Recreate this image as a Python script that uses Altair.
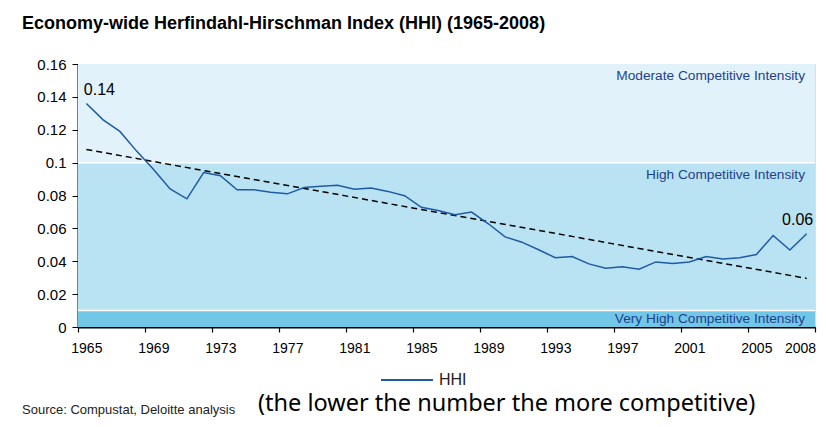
import altair as alt
import pandas as pd

years = list(range(1965, 2009))
hhi = [0.136, 0.126, 0.119, 0.107, 0.096, 0.084, 0.078, 0.094, 0.092, 0.0835,
       0.0835, 0.082, 0.081, 0.0848, 0.0856, 0.0862, 0.0838, 0.0846, 0.0825, 0.0799,
       0.0728, 0.0709, 0.0683, 0.0699, 0.0628, 0.0548, 0.0516, 0.047, 0.0421, 0.0429,
       0.0384, 0.0358, 0.0367, 0.0351, 0.0396, 0.0386, 0.0396, 0.0429, 0.0413, 0.0421,
       0.0441, 0.0557, 0.0468, 0.0567]

band_labels = ["Moderate Competitive Intensity", "High Competitive Intensity",
               "Very High Competitive Intensity"]
band_lo = [0.10, 0.01, 0.0]
band_hi = [0.16, 0.10, 0.01]
band_colors = ["#E2F2FA", "#B9E3F2", "#72C7E7"]

x_label_values = [1965, 1969, 1973, 1977, 1981, 1985, 1989, 1993, 1997, 2001, 2005, 2008]
x_tick_values = [1964.5 + 4 * i for i in range(12)]
y_tick_values = [0, 0.02, 0.04, 0.06, 0.08, 0.10, 0.12, 0.14, 0.16]

FONT = "Liberation Sans"

df = pd.DataFrame({"year": years, "hhi": hhi, "series": ["HHI"] * len(years)})
bands = pd.DataFrame({"label": band_labels, "lo": band_lo, "hi": band_hi,
                      "color": band_colors, "xr": [2008.5] * 3})

xscale = alt.Scale(domain=[1964.5, 2008.5], nice=False, zero=False)
yscale = alt.Scale(domain=[0, 0.16], nice=False, zero=True)
yaxis = alt.Axis(values=y_tick_values, format="~g", title=None, grid=False,
                 tickSize=6, tickColor="black", domainColor="black", domainWidth=2,
                 labelFontSize=15, labelPadding=6, labelColor="black", labelFont=FONT)

band_rect = alt.Chart(bands).mark_rect().encode(
    y=alt.Y("lo:Q", scale=yscale, axis=yaxis),
    y2="hi:Q",
    fill=alt.Fill("color:N", scale=None, legend=None),
)

band_sep = alt.Chart(bands).transform_filter("datum.lo > 0").mark_rule(
    color="white", strokeWidth=1.5
).encode(y=alt.Y("lo:Q", scale=yscale, axis=yaxis))

band_text_top = alt.Chart(bands).transform_filter("datum.lo > 0").mark_text(
    align="right", baseline="top", dx=-10, dy=5, fontSize=13.7, font=FONT, color="#1F3F8F"
).encode(
    x=alt.X("xr:Q", scale=xscale, axis=None),
    y=alt.Y("hi:Q", scale=yscale, axis=yaxis),
    text="label:N",
)

band_text_bottom = alt.Chart(bands).transform_filter("datum.lo == 0").transform_calculate(
    mid="(datum.lo + datum.hi) / 2"
).mark_text(
    align="right", baseline="middle", dx=-10, dy=0, fontSize=13.7, font=FONT, color="#1F3F8F"
).encode(
    x=alt.X("xr:Q", scale=xscale, axis=None),
    y=alt.Y("mid:Q", scale=yscale, axis=yaxis),
    text="label:N",
)

trend = alt.Chart(df).transform_regression("year", "hhi").mark_line(
    color="black", strokeDash=[6, 4], strokeWidth=1.5
).encode(
    x=alt.X("year:Q", scale=xscale,
            axis=alt.Axis(values=x_tick_values, labels=False, ticks=True, tickSize=5,
                          tickColor="black", tickWidth=1.2, domain=False, grid=False,
                          title=None, orient="bottom")),
    y=alt.Y("hhi:Q", scale=yscale, axis=yaxis),
)

line = alt.Chart(df).mark_line(strokeWidth=1.5).encode(
    x=alt.X("year:Q", scale=xscale,
            axis=alt.Axis(values=x_label_values, format="d", ticks=False, grid=False,
                          domainColor="black", domainWidth=2, labelFontSize=14,
                          labelFont=FONT, labelColor="black", labelPadding=14,
                          title=None, orient="bottom", labelFlush=False,
                          labelAlign={"condition": {"test": "datum.value == 2008", "value": "right"},
                                      "value": "center"},
                          labelOffset={"condition": {"test": "datum.value == 2008", "value": 9},
                                       "value": 0})),
    y=alt.Y("hhi:Q", scale=yscale, axis=yaxis),
    color=alt.Color("series:N", scale=alt.Scale(domain=["HHI"], range=["#1F5AA6"]),
                    legend=alt.Legend(orient="none", legendX=302, legendY=289, title=None,
                                      symbolType="stroke", symbolSize=2700,
                                      symbolStrokeWidth=2, labelFontSize=16,
                                      labelFont=FONT, labelColor="#222222",
                                      labelOffset=5, padding=0)),
)

first_label = alt.Chart(df).transform_filter("datum.year == 1965").transform_calculate(
    lbl="format(datum.hhi, '.2f')"
).mark_text(align="center", baseline="alphabetic", dx=13, dy=-8, fontSize=16,
            font=FONT, color="black").encode(
    x=alt.X("year:Q", scale=xscale, axis=None),
    y=alt.Y("hhi:Q", scale=yscale, axis=yaxis),
    text="lbl:N",
)

last_label = alt.Chart(df).transform_filter("datum.year == 2008").transform_calculate(
    lbl="format(datum.hhi, '.2f')"
).mark_text(align="center", baseline="alphabetic", dx=-9, dy=-9, fontSize=16,
            font=FONT, color="black").encode(
    x=alt.X("year:Q", scale=xscale, axis=None),
    y=alt.Y("hhi:Q", scale=yscale, axis=yaxis),
    text="lbl:N",
)

source_note = alt.Chart(pd.DataFrame({"t": ["Source: Compustat, Deloitte analysis"]})).mark_text(
    align="left", baseline="alphabetic", fontSize=13, font=FONT, color="#222222"
).encode(x=alt.value(-56), y=alt.value(350), text="t:N")

comment_note = alt.Chart(pd.DataFrame({"t": ["(the lower the number the more competitive)"]})).mark_text(
    align="left", baseline="alphabetic", fontSize=23.5, font="Noto Sans", color="black"
).encode(x=alt.value(180), y=alt.value(347), text="t:N")

chart = alt.layer(
    band_rect, band_sep, band_text_top, band_text_bottom, trend, line,
    first_label, last_label, source_note, comment_note
).resolve_axis(x="independent").resolve_scale(color="independent").properties(
    width=737, height=263,
    autosize=alt.AutoSizeParams(type="none"),
    padding={"left": 70, "top": 56, "right": 3, "bottom": 92},
    title=alt.TitleParams("Economy-wide Herfindahl-Hirschman Index (HHI) (1965-2008)",
                          anchor="start", frame="group", dx=-56, offset=24, fontSize=18,
                          font=FONT, fontWeight="bold", color="black"),
).configure_view(stroke=None).configure(background="white")

chart.save("out.html", embed_options={"renderer": "svg", "actions": False})
